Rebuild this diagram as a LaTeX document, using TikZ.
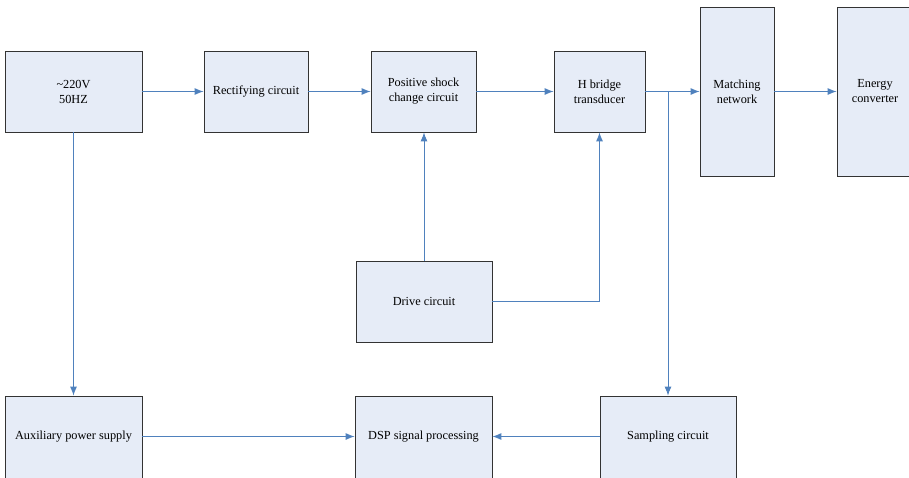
\documentclass[tikz,border=0pt]{standalone}
\usepackage{fontspec}
\setmainfont{Liberation Serif}
\usetikzlibrary{arrows.meta}
\definecolor{blkfill}{RGB}{230,236,247}
\definecolor{linkblue}{RGB}{79,129,189}

\begin{document}
\begin{tikzpicture}[x=1pt,y=-1pt,font=\fontsize{12.3}{15}\selectfont,
	blk/.style={draw=black!80,fill=blkfill,line width=0.8pt,align=center,inner sep=0pt,minimum height=81pt},
	con/.style={draw=linkblue,line width=0.9pt,-{Latex[length=9pt,width=7pt]}}]
					\useasboundingbox (0,0) rectangle (909,477);
					% top row
					\node[blk,minimum width=137pt] (src) at (73.5,91.5) {\textasciitilde220V\\50HZ};
					\node[blk,minimum width=104pt] (rect) at (256,91.5) {Rectifying circuit};
					\node[blk,minimum width=105pt] (shock) at (423.5,91.5) {Positive shock\\change circuit};
					\node[blk,minimum width=91pt] (hbridge) at (599.5,91.5) {H bridge\\transducer};
					\node[blk,minimum width=74pt,minimum height=169pt] (match) at (737,91.5) {Matching\\network};
					\node[blk,minimum width=76pt,minimum height=169pt] (energy) at (875,91.5) {Energy\\converter};
					% middle and bottom (cut off at the lower edge)
					\node[blk,minimum width=136pt] (drive) at (424,301.5) {Drive circuit};
					\foreach \name/\xpos/\bw/\txt in {aux/73.5/137/Auxiliary power supply, dsp/423.5/137/DSP signal processing, samp/668/136/Sampling circuit} {
						\node[blk,minimum width=\bw pt,minimum height=91pt] (\name) at (\xpos,441.5) {};
						\node (\name lbl) at (\xpos,436.5) {\txt};
					}
					% connectors
					\foreach \from/\to in {src/rect, rect/shock, shock/hbridge, hbridge/match, match/energy, src/aux} {
						\draw[con] (\from) -- (\to);
					}
					\draw[con] (aux.east |- auxlbl) -- (dsp.west |- dsplbl);
					\draw[con] (samp.west |- samplbl) -- (dsp.east |- dsplbl);
					\draw[con] (drive.north) -- (drive.north |- shock.south);
					\draw[con] (drive.east) -| (hbridge.south);
					\draw[con] (hbridge.east -| samp.north) -- (samp.north);
				\end{tikzpicture}
\end{document}
